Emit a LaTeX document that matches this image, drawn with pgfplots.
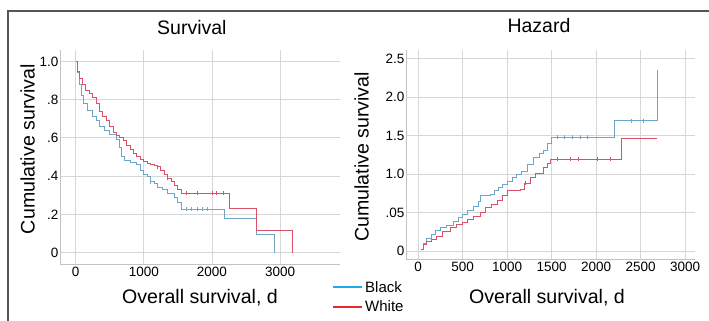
\documentclass[border=0pt]{standalone}
\usepackage{pgfplots}
\pgfplotsset{compat=1.18}
\usepackage{fontspec}
\setmainfont{Liberation Sans}
\definecolor{cblue}{RGB}{30,170,230}
\definecolor{cred}{RGB}{232,38,46}
\definecolor{lblue}{RGB}{110,165,200}
\definecolor{lred}{RGB}{220,80,105}
\definecolor{gridc}{RGB}{215,215,215}
\definecolor{axc}{RGB}{195,195,195}
\definecolor{framec}{RGB}{85,85,85}
\pgfplotsset{mystyle/.style={
  scale only axis, anchor=south west,
  axis x line*=bottom, axis y line*=left,
  axis line style={axc, line width=0.8pt},
  grid=major, grid style={gridc, line width=0.8pt},
  major tick length=0pt,
  tick label style={font=\fontsize{13.5}{15}\selectfont},
  yticklabel style={inner sep=1.5pt},
  xticklabel style={inner sep=3pt},
  /pgf/number format/assume math mode=true,
  title style={font=\fontsize{19.5}{21}\selectfont, anchor=center},
  xlabel style={font=\fontsize{19.6}{21}\selectfont, anchor=center},
  ylabel style={font=\fontsize{19.6}{21}\selectfont, anchor=center, rotate=0},
}}
\begin{document}
\begin{tikzpicture}
\path[use as bounding box] (0pt,0pt) rectangle (709pt,321pt);
\draw[framec, line width=1.5pt] (8pt,-5pt) -- (8pt,310pt) -- (715pt,310pt);

% Survival
\begin{axis}[mystyle,
  at={(60pt,57pt)}, width=280pt, height=214pt,
  xmin=-230, xmax=3880, ymin=-0.06, ymax=1.06,
  xtick={0,1000,2000,3000}, xticklabels={0,1000,2000,3000},
  ytick={0,0.2,0.4,0.6,0.8,1.0}, yticklabels={0,.2,.4,.6,.8,1.0},
  title={Survival}, title style={at={(axis description cs:0.471,1.077)}},
  xlabel={Overall survival, d}, xlabel style={at={(axis description cs:0.5,-0.159)}},
  ylabel={Cumulative survival}, ylabel style={at={(axis description cs:-0.116,0.537)}, rotate=0},
]
\addplot[const plot, lblue, line width=1pt] coordinates {
(0,1.0)(30,0.94)(60,0.88)(90,0.82)(120,0.78)(180,0.745)(250,0.71)(300,0.69)(350,0.66)(420,0.64)(500,0.62)(600,0.59)(650,0.55)(680,0.50)(720,0.48)(800,0.47)(900,0.46)(950,0.43)(1000,0.41)(1050,0.40)(1100,0.37)(1150,0.36)(1200,0.34)(1280,0.33)(1350,0.31)(1450,0.29)(1500,0.26)(1560,0.226)(2190,0.18)(2660,0.095)(2920,0.0)
};
\addplot[const plot, lred, line width=1pt] coordinates {
(0,1.0)(30,0.95)(60,0.91)(100,0.88)(150,0.85)(200,0.83)(250,0.81)(300,0.78)(350,0.74)(400,0.71)(450,0.69)(500,0.66)(550,0.63)(600,0.61)(650,0.60)(700,0.585)(750,0.56)(800,0.54)(850,0.52)(900,0.50)(950,0.485)(1000,0.475)(1050,0.465)(1100,0.46)(1150,0.455)(1200,0.45)(1250,0.43)(1300,0.41)(1350,0.39)(1400,0.37)(1450,0.35)(1500,0.33)(1560,0.31)(2265,0.23)(2660,0.115)(3190,0.0)
};
\addplot[only marks, mark=|, mark size=2pt, lblue] coordinates {
(1620,0.226)(1700,0.226)(1780,0.226)(1860,0.226)(1930,0.226)(1100,0.37)
};
\addplot[only marks, mark=|, mark size=2pt, lred] coordinates {
(1620,0.31)(1780,0.31)(2000,0.31)(2070,0.31)(2160,0.31)(1200,0.45)(1350,0.39)
};
\end{axis}

% Hazard
\begin{axis}[mystyle,
  at={(406pt,62pt)}, width=289pt, height=209pt,
  xmin=-135, xmax=3112, ymin=-0.104, ymax=2.61,
  xtick={0,500,1000,1500,2000,2500,3000}, xticklabels={0,500,1000,1500,2000,2500,3000},
  ytick={0,0.5,1,1.5,2,2.5}, yticklabels={0,.05,1.0,1.5,2.0,2.5},
  title={Hazard}, title style={at={(axis description cs:0.460,1.086)}},
  xlabel={Overall survival, d}, xlabel style={at={(axis description cs:0.488,-0.184)}},
  ylabel={Cumulative survival}, ylabel style={at={(axis description cs:-0.154,0.488)}, rotate=0},
  legend style={at={(axis description cs:-0.256,-0.096)}, anchor=north west, draw=none, fill=none,
    inner sep=0pt, row sep=3pt, font=\fontsize{15}{17}\selectfont,
    nodes={inner sep=2pt, anchor=west}},
  legend cell align=left,
  legend image code/.code={\draw[#1, line width=2pt] (0pt,0pt) -- (29pt,0pt);},
]
\addplot[const plot, lblue, line width=1pt, forget plot] coordinates {
(30,0.02)(60,0.10)(100,0.16)(150,0.22)(200,0.27)(250,0.30)(325,0.33)(400,0.38)(450,0.43)(505,0.48)(560,0.53)(620,0.58)(680,0.64)(700,0.72)(810,0.73)(860,0.78)(900,0.83)(950,0.86)(1000,0.90)(1060,0.95)(1110,0.99)(1160,1.03)(1225,1.12)(1300,1.22)(1360,1.27)(1405,1.31)(1450,1.40)(1505,1.48)(2213,1.69)(2685,2.35)
};
\addplot[const plot, lred, line width=1pt, forget plot] coordinates {
(30,0.02)(60,0.08)(100,0.12)(150,0.15)(210,0.19)(280,0.25)(360,0.31)(430,0.34)(505,0.37)(560,0.41)(620,0.45)(700,0.50)(760,0.56)(820,0.61)(890,0.66)(950,0.72)(1010,0.78)(1150,0.80)(1200,0.88)(1260,0.95)(1320,1.00)(1405,1.08)(1450,1.13)(1490,1.19)(2290,1.46)(2685,1.46)
};
\addplot[only marks, mark=|, mark size=2pt, lblue, forget plot] coordinates {
(1560,1.48)(1640,1.48)(1730,1.48)(1820,1.48)(1900,1.48)(2400,1.69)(2530,1.69)
};
\addplot[only marks, mark=|, mark size=2pt, lred, forget plot] coordinates {
(1560,1.19)(1710,1.19)(1800,1.19)(2010,1.19)(2160,1.19)(1200,0.88)
};
\addlegendimage{cblue}
\addlegendentry{Black}
\addlegendimage{cred}
\addlegendentry{White}
\end{axis}
\end{tikzpicture}
\end{document}
